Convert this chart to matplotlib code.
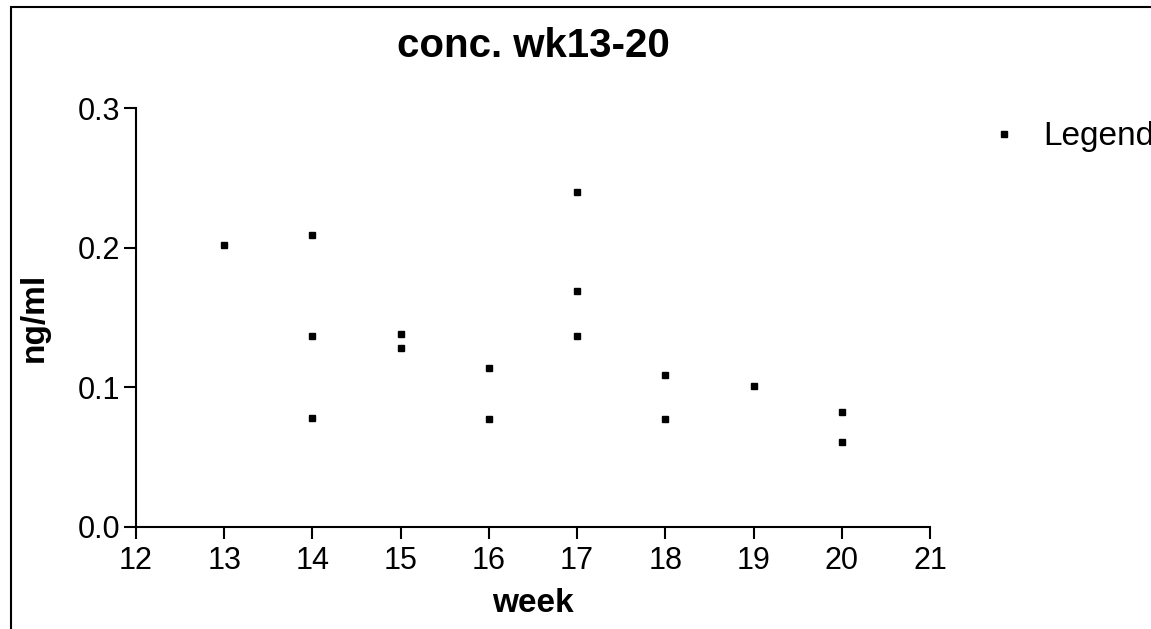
import matplotlib
matplotlib.use("Agg")
import matplotlib.pyplot as plt
from matplotlib.patches import Rectangle

# data
weeks = [13, 14, 14, 14, 15, 15, 16, 16, 17, 17, 17, 18, 18, 19, 20, 20]
conc = [0.202, 0.209, 0.137, 0.078, 0.138, 0.128, 0.114, 0.077,
        0.240, 0.169, 0.137, 0.109, 0.077, 0.101, 0.082, 0.061]
x_ticks = list(range(12, 22))
y_ticks = [0.0, 0.1, 0.2, 0.3]

plt.rcParams["font.family"] = ["Liberation Sans", "DejaVu Sans"]

fig = plt.figure(figsize=(11.51, 6.29), dpi=100)
ax = fig.add_axes([136 / 1151, 1 - 527 / 629, (930 - 136) / 1151, (527 - 108) / 629])

ax.plot(weeks, conc, linestyle="none", marker="s", markersize=5,
        color="black", label="Legend")

ax.set_xlim(12, 21)
ax.set_ylim(0, 0.3)
ax.set_xticks(x_ticks)
ax.set_yticks(y_ticks)
ax.set_yticklabels([f"{v:.1f}" for v in y_ticks])
for side in ["top", "right"]:
    ax.spines[side].set_visible(False)
for side in ["left", "bottom"]:
    ax.spines[side].set_linewidth(1.5)
ax.tick_params(direction="out", length=8.5, width=1.5, labelsize=22, pad=3)
ax.tick_params(axis="x", pad=5)

ax.set_title("conc. wk13-20", fontsize=29, fontweight="bold", pad=37)
ax.set_xlabel("week", fontsize=24, fontweight="bold", labelpad=9)
ax.set_ylabel("ng/ml", fontsize=24, fontweight="bold", labelpad=20)

# legend text runs off the right edge, as in the reference
ax.legend(loc="upper left", bbox_to_anchor=(1.035, 1.04), frameon=False,
          fontsize=24, handletextpad=0.65, handlelength=1.0, markerscale=1.0)

# outer frame (only left and top visible in the crop)
fig.patches.append(Rectangle((11 / 1151, -0.1), 1.2, 1 - 7 / 629 + 0.1,
                             transform=fig.transFigure, fill=False,
                             edgecolor="black", linewidth=1.5))

fig.savefig("out.png", dpi=100)
